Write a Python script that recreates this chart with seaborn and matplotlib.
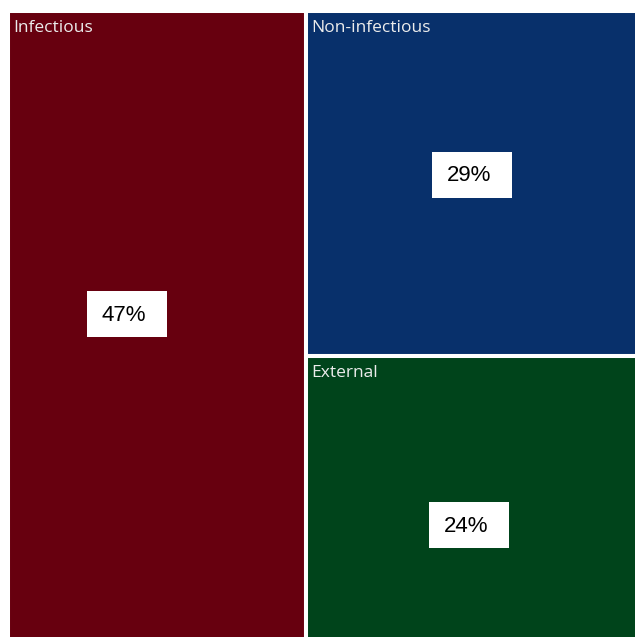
import matplotlib
matplotlib.use("Agg")
import matplotlib.pyplot as plt
from matplotlib.patches import Rectangle
import seaborn as sns

# ---- data ----
categories = ["Infectious", "Non-infectious", "External"]
shares = [47, 29, 24]
pct_labels = ["47%", "29%", "24%"]

sns.set_theme(style="white")
plt.rcParams["font.family"] = ["Liberation Sans", "DejaVu Sans"]

colors = ["#67000F", "#08306B", "#00441B"]

fig = plt.figure(figsize=(6.35, 6.37), dpi=100)
ax = fig.add_axes([0, 0, 1, 1])
ax.set_xlim(0, 635)
ax.set_ylim(637, 0)
ax.axis("off")

# treemap domain (pixel-like data coords)
X0, X1, Y0, Y1 = 8, 642, 11, 641.5
W, H = X1 - X0, Y1 - Y0
total = sum(shares)

# slice-and-dice: first category takes a vertical column, rest stacked
w0 = W * shares[0] / total
rects = [(X0, Y0, w0, H)]
rest = sum(shares[1:])
y = Y0
for s in shares[1:]:
    h = H * s / rest
    rects.append((X0 + w0, y, W - w0, h))
    y += h

# draw boxes via bar
for (x, y, w, h), c in zip(rects, colors):
    ax.bar(x, h, width=w, bottom=y, align="edge", color=c,
           edgecolor="white", linewidth=2.9)

# label box centers as fractions within each rect
box_pos = [(0.399, 0.481), (0.493, 0.475), (0.485, 0.592)]
for (x, y, w, h), name, pct, (fx, fy) in zip(rects, categories, pct_labels, box_pos):
    ax.text(x + 5, y + 17.5, name, color="#ececec", fontsize=12.5,
            family=["Open Sans", "DejaVu Sans"], va="center", ha="left")
    cx, cy = x + fx * w, y + fy * h
    ax.add_patch(Rectangle((cx - 40, cy - 23), 80, 46, facecolor="white",
                           edgecolor="none", zorder=3))
    ax.text(cx - 3, cy + 1, pct, color="black", fontsize=16, ha="center",
            va="center", zorder=4)

fig.savefig("out.png", dpi=100, facecolor="white")
